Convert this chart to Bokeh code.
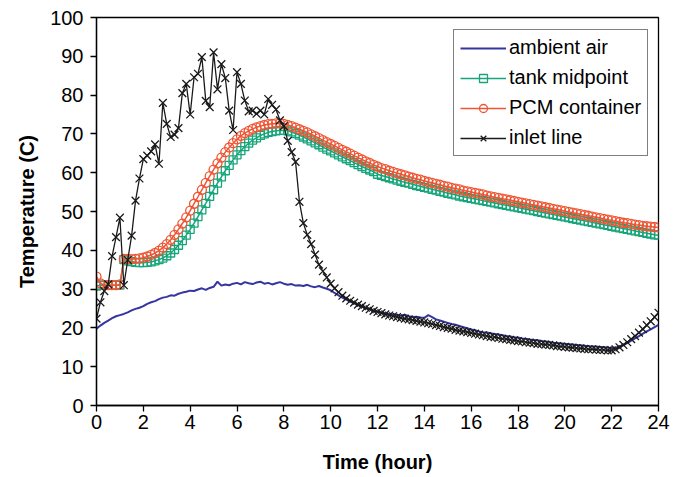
from bokeh.plotting import figure
from bokeh.models import Legend, LegendItem, FixedTicker, Range1d
from bokeh.embed import file_html
from bokeh.resources import INLINE

# Sampling grid: one reading every 10 minutes over 24 hours
time_min = list(range(0, 1441, 10))
time_h = [m / 60 for m in time_min]

# Temperatures in deg C, one row per hour (6 readings each)
ambient_air = [
    19.8, 20.6, 21.3, 21.9, 22.5, 23.0,
    23.3, 23.6, 24.0, 24.5, 24.9, 25.2,
    25.6, 26.2, 26.6, 26.9, 27.4, 27.8,
    28.0, 28.4, 28.3, 28.8, 29.1, 29.3,
    29.6, 29.5, 29.9, 30.2, 29.8, 30.3,
    30.6, 31.9, 30.9, 31.2, 31.0, 31.4,
    31.6, 31.2, 31.8, 31.5, 31.3, 31.7,
    31.9, 31.4, 31.6, 31.2, 31.5, 31.8,
    31.4, 31.1, 31.3, 30.9, 31.0, 30.8,
    31.1, 30.7, 30.5, 30.8, 30.4, 30.1,
    29.7, 29.0, 28.4, 27.8, 27.3, 26.8,
    26.4, 25.9, 25.5, 25.1, 24.8, 24.5,
    24.3, 24.0, 23.8, 23.6, 23.5, 23.3,
    23.2, 23.4, 23.0, 22.8, 22.9, 22.7,
    22.6, 23.3, 22.8, 22.2, 21.9, 21.6,
    21.3, 21.0, 20.8, 20.5, 20.2, 19.9,
    19.6, 19.4, 19.1, 18.9, 18.8, 18.6,
    18.4, 18.3, 18.1, 17.9, 17.8, 17.6,
    17.5, 17.3, 17.2, 17.0, 16.9, 16.8,
    16.6, 16.5, 16.4, 16.2, 16.1, 16.0,
    15.9, 15.8, 15.7, 15.6, 15.5, 15.4,
    15.3, 15.2, 15.2, 15.1, 15.0, 14.9,
    14.8, 14.9, 15.2, 15.6, 16.1, 16.7,
    17.3, 17.9, 18.5, 19.1, 19.6, 20.2,
    20.8,
]

tank_midpoint = [
    30.8, 31.0, 31.0, 31.0, 31.0, 31.0,
    31.0, 37.6, 37.3, 37.1, 36.9, 36.8,
    36.8, 36.9, 37.0, 37.3, 37.6, 38.0,
    38.6, 39.3, 40.2, 41.3, 42.5, 43.9,
    45.4, 47.0, 48.7, 50.4, 52.1, 53.9,
    55.6, 57.3, 58.9, 60.5, 61.9, 63.3,
    64.6, 65.7, 66.7, 67.6, 68.4, 69.0,
    69.6, 70.0, 70.4, 70.6, 70.8, 70.9,
    70.9, 70.8, 70.5, 70.1, 69.7, 69.2,
    68.7, 68.2, 67.7, 67.2, 66.6, 66.1,
    65.6, 65.1, 64.6, 64.1, 63.6, 63.1,
    62.6, 62.1, 61.6, 61.1, 60.7, 60.3,
    59.6, 59.3, 59.0, 58.7, 58.4, 58.1,
    57.8, 57.5, 57.3, 57.0, 56.7, 56.5,
    56.2, 56.0, 55.7, 55.5, 55.2, 55.0,
    54.7, 54.5, 54.3, 54.0, 53.8, 53.6,
    53.4, 53.2, 53.0, 52.8, 52.6, 52.4,
    52.2, 52.0, 51.8, 51.6, 51.4, 51.2,
    51.0, 50.8, 50.6, 50.4, 50.2, 50.0,
    49.8, 49.6, 49.4, 49.2, 49.0, 48.8,
    48.6, 48.4, 48.2, 48.0, 47.8, 47.6,
    47.4, 47.2, 47.0, 46.8, 46.6, 46.4,
    46.2, 46.0, 45.8, 45.6, 45.4, 45.2,
    45.0, 44.8, 44.6, 44.4, 44.2, 44.0,
    43.9,
]

pcm_container = [
    33.2, 31.5, 31.0, 31.0, 31.0, 31.0,
    31.2, 37.8, 37.8, 37.7, 37.8, 37.9,
    38.1, 38.4, 38.8, 39.3, 39.9, 40.7,
    41.6, 42.7, 44.0, 45.4, 46.9, 48.5,
    50.2, 52.0, 53.8, 55.6, 57.4, 59.1,
    60.8, 62.4, 63.9, 65.3, 66.5, 67.6,
    68.6, 69.5, 70.2, 70.8, 71.3, 71.7,
    72.0, 72.3, 72.5, 72.6, 72.7, 72.7,
    72.6, 72.3, 72.0, 71.6, 71.2, 70.8,
    70.4, 69.9, 69.4, 68.9, 68.4, 67.9,
    67.4, 66.9, 66.4, 65.9, 65.4, 64.9,
    64.4, 63.9, 63.4, 62.9, 62.5, 62.0,
    61.6, 61.2, 60.9, 60.5, 60.2, 59.9,
    59.6, 59.3, 59.0, 58.7, 58.4, 58.2,
    57.9, 57.6, 57.4, 57.1, 56.9, 56.6,
    56.4, 56.1, 55.9, 55.7, 55.4, 55.2,
    55.0, 54.8, 54.6, 54.4, 54.1, 53.9,
    53.7, 53.5, 53.3, 53.1, 52.9, 52.7,
    52.5, 52.3, 52.1, 51.9, 51.7, 51.5,
    51.3, 51.1, 50.9, 50.7, 50.5, 50.3,
    50.1, 49.9, 49.7, 49.5, 49.3, 49.1,
    48.9, 48.7, 48.5, 48.3, 48.1, 47.9,
    47.7, 47.5, 47.3, 47.1, 47.0, 46.8,
    46.6, 46.5, 46.3, 46.2, 46.1, 46.0,
    45.9,
]

inlet_line = [
    22.4, 26.6, 29.5, 31.2, 38.5, 43.4,
    48.4, 31.0, 37.5, 43.8, 52.8, 58.5,
    63.5, 64.4, 65.5, 67.3, 62.3, 78.0,
    72.6, 69.2, 69.8, 71.5, 80.5, 82.9,
    75.0, 84.6, 85.5, 89.8, 78.5, 76.9,
    91.0, 81.5, 88.0, 84.4, 76.0, 71.0,
    85.9, 82.9, 78.6, 75.8, 76.0, 75.2,
    76.0, 75.0, 79.0, 77.5, 76.3, 73.5,
    72.0, 68.2, 65.3, 62.8, 52.5, 47.0,
    44.0, 41.6, 38.9, 36.3, 34.6, 33.0,
    31.4, 30.2, 29.2, 28.3, 27.6, 27.0,
    26.5, 26.0, 25.6, 25.2, 24.8, 24.4,
    24.1, 23.8, 23.5, 23.2, 23.0, 22.8,
    22.6, 22.4, 22.2, 22.0, 21.8, 21.6,
    21.4, 21.2, 21.0, 20.7, 20.5, 20.2,
    20.0, 19.8, 19.5, 19.3, 19.1, 18.9,
    18.7, 18.5, 18.3, 18.1, 17.9, 17.7,
    17.6, 17.4, 17.2, 17.1, 16.9, 16.8,
    16.6, 16.5, 16.3, 16.2, 16.1, 15.9,
    15.8, 15.7, 15.6, 15.5, 15.3, 15.2,
    15.1, 15.0, 14.9, 14.8, 14.7, 14.6,
    14.5, 14.5, 14.4, 14.3, 14.3, 14.2,
    14.2, 14.5, 15.0, 15.6, 16.3, 17.1,
    17.9, 18.8, 19.7, 20.7, 21.7, 22.8,
    23.9,
]

x_ticks = list(range(0, 25, 2))
y_ticks = list(range(0, 101, 10))

FONT = "Liberation Sans"
BLUE = "#3535a2"
GREEN = "#16a57a"
RED = "#ef5533"
BLACK = "#1a1a1a"

p = figure(
    width=673, height=477,
    x_range=Range1d(0, 24), y_range=Range1d(0, 100),
    output_backend="svg", toolbar_location=None,
    min_border_left=96, min_border_right=15,
    min_border_top=17, min_border_bottom=72,
)
p.background_fill_color = "white"
p.border_fill_color = "white"
p.outline_line_color = "black"
p.outline_line_width = 1.3
p.grid.visible = False

for ax in (p.xaxis[0], p.yaxis[0]):
    ax.axis_line_color = "black"
    ax.axis_line_width = 1.3
    ax.major_tick_line_color = "black"
    ax.major_tick_line_width = 1.3
    ax.major_tick_in = 0
    ax.major_tick_out = 6
    ax.minor_tick_line_color = None
    ax.major_label_text_font = FONT
    ax.major_label_text_font_size = "20px"
    ax.major_label_text_color = "black"
    ax.axis_label_text_font = FONT
    ax.axis_label_text_font_size = "20px"
    ax.axis_label_text_font_style = "bold"
    ax.axis_label_text_color = "black"

p.xaxis.ticker = FixedTicker(ticks=x_ticks)
p.yaxis.ticker = FixedTicker(ticks=y_ticks)
p.xaxis.axis_label = "Time (hour)"
p.yaxis.axis_label = "Temperature (C)"
p.xaxis.major_label_standoff = 3
p.yaxis.major_label_standoff = 7
p.xaxis.axis_label_standoff = 19
p.yaxis.axis_label_standoff = 9

# Ambient air: plain line
r_air = p.line(time_h, ambient_air, line_color=BLUE, line_width=2)

# Tank midpoint: line with open squares
r_tank_l = p.line(time_h, tank_midpoint, line_color=GREEN, line_width=1.5)
r_tank_m = p.scatter(time_h, tank_midpoint, marker="square", size=8,
                     line_color=GREEN, line_width=1.3, fill_color=None)

# PCM container: line with open circles
r_pcm_l = p.line(time_h, pcm_container, line_color=RED, line_width=1.5)
r_pcm_m = p.scatter(time_h, pcm_container, marker="circle", size=9,
                    line_color=RED, line_width=1.3, fill_color=None)

# Inlet line: line with crosses
r_in_l = p.line(time_h, inlet_line, line_color=BLACK, line_width=1.3)
r_in_m = p.scatter(time_h, inlet_line, marker="x", size=11,
                   line_color=BLACK, line_width=1.3)

legend = Legend(
    items=[
        LegendItem(label="ambient air", renderers=[r_air]),
        LegendItem(label="tank midpoint", renderers=[r_tank_l, r_tank_m]),
        LegendItem(label="PCM container", renderers=[r_pcm_l, r_pcm_m]),
        LegendItem(label="inlet line", renderers=[r_in_l, r_in_m]),
    ],
    location=(357, 249),
    label_text_font=FONT,
    label_text_font_size="20px",
    label_text_color="black",
    glyph_width=46, glyph_height=20, label_height=20,
    label_standoff=3, spacing=7, padding=6, margin=0,
    border_line_color="black", border_line_width=1.3,
    background_fill_color="white", background_fill_alpha=1.0,
)
p.add_layout(legend)

open("out.html", "w").write(file_html(p, INLINE))
